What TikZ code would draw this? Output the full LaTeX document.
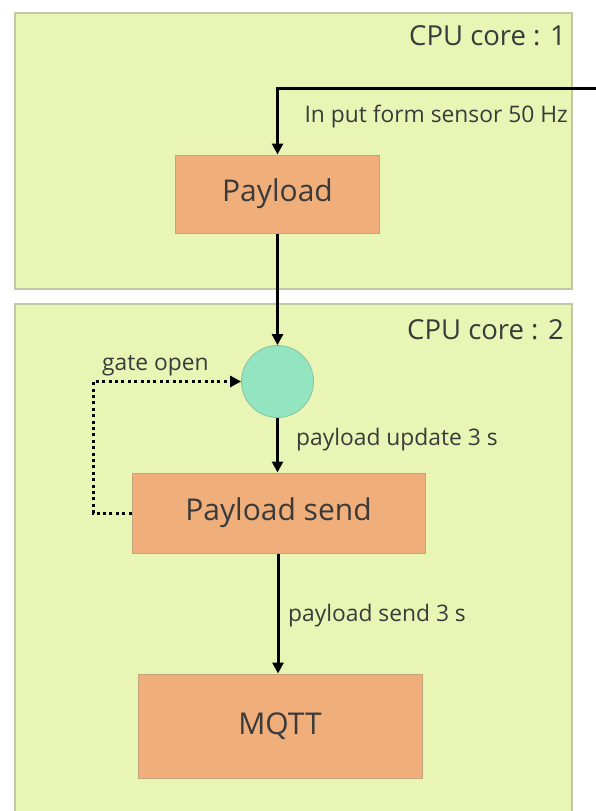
\documentclass[tikz,border=0pt]{standalone}
\usepackage{fontspec}
\setmainfont{Open Sans}
\usetikzlibrary{arrows.meta}
\definecolor{panelfill}{HTML}{E9F5B4}
\definecolor{panelline}{HTML}{C3C7A4}
\definecolor{boxfill}{HTML}{EFAE7A}
\definecolor{boxline}{HTML}{C2A57A}
\definecolor{gatefill}{HTML}{93E4C1}
\definecolor{gateline}{HTML}{86C2A0}
\definecolor{ink}{HTML}{3A3A3A}
\tikzset{
  panel/.style={draw=panelline, fill=panelfill, line width=1.4pt},
  procbox/.style={draw=boxline, fill=boxfill, line width=1pt, text=ink,
    font=\fontsize{30}{36}\selectfont, inner sep=0pt},
  gatenode/.style={circle, draw=gateline, fill=gatefill, line width=0.8pt,
    minimum size=72pt, inner sep=0pt},
  flowlabel/.style={text=ink, font=\fontsize{22.8}{27}\selectfont, inner sep=0pt},
  corelabel/.style={text=ink, font=\fontsize{27.5}{33}\selectfont, inner sep=0pt},
  flow/.style={line width=3pt, -{Triangle[length=11pt,width=11pt]}},
  gateflow/.style={line width=3pt, dash pattern=on 3pt off 3.4pt,
    -{Triangle[length=11pt,width=11pt]}},
}
\begin{document}
\begin{tikzpicture}[x=1pt, y=-1pt]
\useasboundingbox (0,0) rectangle (595,811);

% core panels
\draw[panel] (15,13) rectangle (572,289);
\draw[panel] (15,304) rectangle (572,830);
\node[corelabel, anchor=base east] (core1) at (566,45) {CPU core : 1};
\node[corelabel, anchor=base east] (core2) at (564,339) {CPU core : 2};

% processing stages
\node[procbox, minimum width=204pt, minimum height=78pt] (payload) at (277.5,194) {Payload};
\node[gatenode] (gate) at (277.5,381.5) {};
\node[procbox, minimum width=293pt, minimum height=80pt] (send) at (278.5,513) {Payload send};
\node[procbox, minimum width=284pt, minimum height=104pt] (mqtt) at (280,726) {MQTT};

% sensor input entering from the right edge
\coordinate (sensor) at (597,88);
\draw[flow] (sensor) -| (payload.north);
\node[flowlabel, anchor=base east] (inlabel) at (568,122) {In put form sensor 50 Hz};

% main data path
\draw[flow] (payload.south) -- (gate.north);
\draw[flow] (gate.south) -- (gate.south |- send.north);
\node[flowlabel, anchor=base west] (updlabel) at (296,445) {payload update 3 s};
\draw[flow] (send.south -| gate.south) ++(0.5,0) coordinate (sendout) -- (sendout |- mqtt.north);
\node[flowlabel, anchor=base west] (sendlabel) at (288,621) {payload send 3 s};

% feedback opening the gate
\coordinate (loop) at (93,513);
\draw[gateflow] (send.west) -- (loop) |- (gate.west);
\node[flowlabel, anchor=base west] (gatelabel) at (102,370) {gate open};
\end{tikzpicture}
\end{document}
